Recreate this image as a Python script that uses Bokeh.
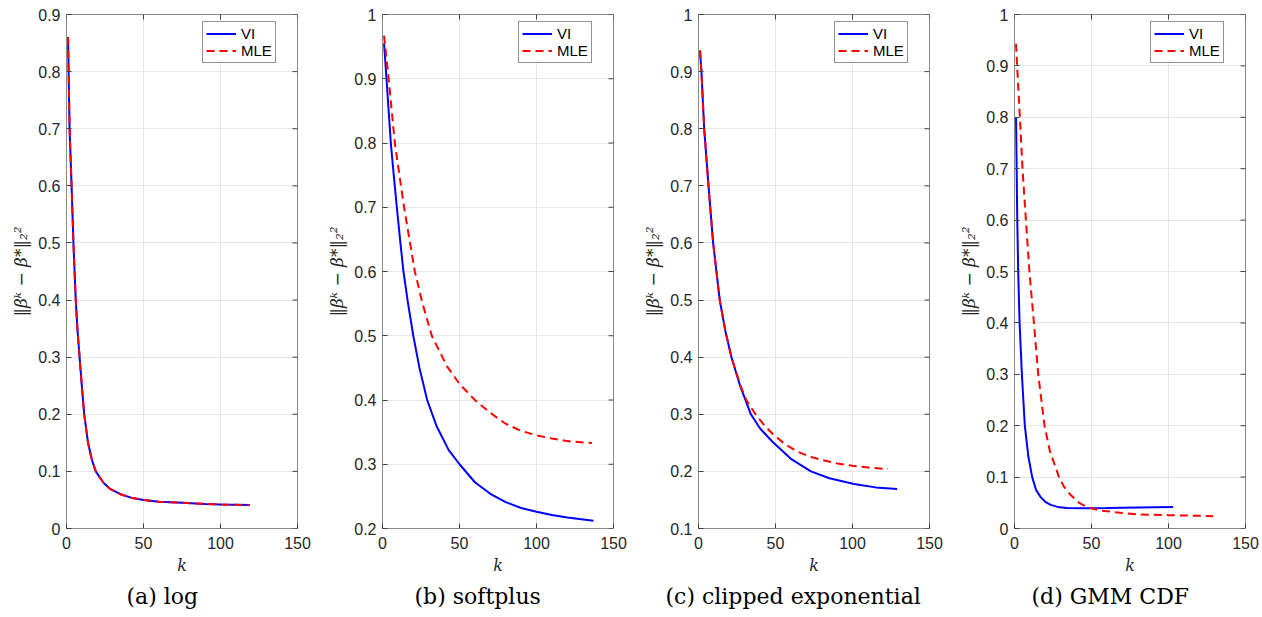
import math
from bokeh.plotting import figure
from bokeh.layouts import row
from bokeh.models import (Legend, LegendItem, Title, Range1d,
                          FixedTicker, NumeralTickFormatter)
from bokeh.embed import file_html
from bokeh.resources import INLINE

# ---------------- data ----------------
x_ticks = [0, 50, 100, 150]
y_ticks_a = [0, 0.1, 0.2, 0.3, 0.4, 0.5, 0.6, 0.7, 0.8, 0.9]
y_ticks_b = [0.2, 0.3, 0.4, 0.5, 0.6, 0.7, 0.8, 0.9, 1.0]
y_ticks_c = [0.1, 0.2, 0.3, 0.4, 0.5, 0.6, 0.7, 0.8, 0.9, 1.0]
y_ticks_d = [0, 0.1, 0.2, 0.3, 0.4, 0.5, 0.6, 0.7, 0.8, 0.9, 1.0]

captions = ["(a) log", "(b) softplus", "(c) clipped exponential", "(d) GMM CDF"]
series_names = ["VI", "MLE"]

# (a) log
a_vi_k = [1, 2, 3.3, 4.5, 6, 7.2, 8.5, 10, 11.5, 14, 16.5, 19, 24, 28, 35, 42, 50, 60, 75, 90, 100, 110, 119]
a_vi = [0.86, 0.70, 0.60, 0.50, 0.40, 0.345, 0.30, 0.248, 0.20, 0.15, 0.12, 0.10, 0.08, 0.07, 0.06, 0.054, 0.05, 0.047, 0.045, 0.043, 0.042, 0.0415, 0.041]
a_mle_k = [1, 2, 3.3, 4.5, 6, 7.2, 8.5, 10, 11.5, 14, 16.5, 19, 24, 28, 35, 42, 50, 60, 75, 90, 100, 110, 119]
a_mle = [0.86, 0.70, 0.60, 0.50, 0.40, 0.345, 0.30, 0.248, 0.20, 0.15, 0.12, 0.10, 0.08, 0.07, 0.06, 0.054, 0.05, 0.047, 0.045, 0.043, 0.042, 0.0415, 0.041]

# (b) softplus
b_vi_k = [1, 2.6, 4, 5.4, 7.3, 9.3, 11.4, 13.6, 16.6, 20, 24, 29, 35, 43, 50, 60, 70, 80, 90, 100, 110, 120, 137]
b_vi = [0.955, 0.90, 0.85, 0.80, 0.75, 0.70, 0.65, 0.60, 0.55, 0.50, 0.45, 0.40, 0.36, 0.322, 0.30, 0.272, 0.254, 0.241, 0.232, 0.226, 0.221, 0.217, 0.212]
b_mle_k = [1, 4, 8, 14, 21, 26, 32, 42, 50, 60, 70, 80, 90, 100, 110, 120, 136]
b_mle = [0.967, 0.90, 0.80, 0.70, 0.60, 0.55, 0.50, 0.452, 0.425, 0.40, 0.38, 0.363, 0.352, 0.345, 0.34, 0.336, 0.333]

# (c) clipped exponential
c_vi_k = [1, 1.9, 3.7, 6.5, 9.5, 13.8, 17.5, 21.4, 27, 34, 40, 48, 60, 73, 85, 101, 115, 129]
c_vi = [0.937, 0.90, 0.80, 0.70, 0.60, 0.50, 0.445, 0.40, 0.35, 0.30, 0.275, 0.252, 0.222, 0.20, 0.188, 0.178, 0.172, 0.169]
c_mle_k = [1, 1.9, 3.7, 6.5, 9.5, 13.8, 17.5, 21.4, 27, 31, 37, 42, 48, 56, 64, 72, 80, 90, 100, 110, 123]
c_mle = [0.937, 0.90, 0.80, 0.70, 0.60, 0.50, 0.445, 0.40, 0.352, 0.325, 0.30, 0.283, 0.266, 0.248, 0.235, 0.226, 0.22, 0.214, 0.21, 0.207, 0.204]

# (d) GMM CDF
d_vi_k = [1, 1.8, 2.4, 3.3, 4.8, 6.7, 9, 11.5, 14, 17, 20, 23.5, 28, 34, 45, 60, 80, 103]
d_vi = [0.80, 0.60, 0.50, 0.40, 0.30, 0.20, 0.14, 0.10, 0.075, 0.061, 0.052, 0.046, 0.042, 0.040, 0.0395, 0.040, 0.041, 0.042]
d_mle_k = [1, 1.7, 3.5, 5.2, 7.4, 9.7, 12.6, 15.4, 19.5, 23, 28.9, 32, 36.5, 42, 47.4, 56, 70, 82, 100, 115, 129]
d_mle = [0.943, 0.90, 0.80, 0.70, 0.60, 0.50, 0.40, 0.30, 0.20, 0.15, 0.10, 0.082, 0.065, 0.05, 0.041, 0.035, 0.03, 0.027, 0.026, 0.025, 0.024]

x_range_limits = (0, 150)
y_ranges = [(0, 0.9), (0.2, 1.0), (0.1, 1.0), (0, 1.0)]
y_tick_sets = [y_ticks_a, y_ticks_b, y_ticks_c, y_ticks_d]
vi_data = [(a_vi_k, a_vi), (b_vi_k, b_vi), (c_vi_k, c_vi), (d_vi_k, d_vi)]
mle_data = [(a_mle_k, a_mle), (b_mle_k, b_mle), (c_mle_k, c_mle), (d_mle_k, d_mle)]

# ---------------- styling / layout ----------------
Y_LABEL = "\u2016\u03b2\u1d4f \u2212 \u03b2*\u2016\u2082\u00b2"
TICK_FONT = "Liberation Sans"
TEXT_COLOR = "#262626"
TICK_COLOR = "#404040"

FRAME_W, FRAME_H = 231, 514
LEFT, TOP = 66, 14
FIG_H = 616
PANEL_W = [316, 316, 316, 312]
CAPTION_SHIFT = [60, 32, -33, 17]   # caption left edge relative to frame left (px)


def style_axis(ax, ticks):
    ax.ticker = FixedTicker(ticks=ticks)
    ax.major_tick_in = 5
    ax.major_tick_out = 0
    ax.minor_tick_in = 0
    ax.minor_tick_out = 0
    ax.axis_line_color = None
    ax.major_tick_line_color = TICK_COLOR
    ax.major_label_text_font = TICK_FONT
    ax.major_label_text_font_size = "16px"
    ax.major_label_text_color = TEXT_COLOR


def make_panel(i):
    w = PANEL_W[i]
    ymin, ymax = y_ranges[i]
    xmin, xmax = x_range_limits
    p = figure(width=w, height=FIG_H,
               x_range=Range1d(xmin, xmax), y_range=Range1d(ymin, ymax),
               output_backend="svg", toolbar_location=None,
               min_border_left=LEFT, min_border_right=w - LEFT - FRAME_W,
               min_border_top=TOP, min_border_bottom=FIG_H - TOP - FRAME_H)
    p.background_fill_color = "white"
    p.border_fill_color = "white"
    p.outline_line_color = "#8a8a8a"
    p.outline_line_width = 1

    style_axis(p.xaxis[0], x_ticks)
    style_axis(p.yaxis[0], y_tick_sets[i])
    p.xaxis.formatter = NumeralTickFormatter(format="0")
    p.yaxis.formatter = NumeralTickFormatter(format="0.[0]")
    p.xaxis.major_label_standoff = 8
    p.yaxis.major_label_standoff = 6

    p.xaxis.axis_label = "k"
    p.xaxis.axis_label_text_font = "DejaVu Serif"
    p.xaxis.axis_label_text_font_style = "italic"
    p.xaxis.axis_label_text_font_size = "16px"
    p.xaxis.axis_label_text_color = TEXT_COLOR
    p.xaxis.axis_label_standoff = 4

    p.yaxis.axis_label = Y_LABEL
    p.yaxis.axis_label_text_font = "DejaVu Serif"
    p.yaxis.axis_label_text_font_style = "italic"
    p.yaxis.axis_label_text_font_size = "17px"
    p.yaxis.axis_label_text_color = TEXT_COLOR
    p.yaxis.axis_label_standoff = 4

    p.xgrid.ticker = FixedTicker(ticks=x_ticks)
    p.ygrid.ticker = FixedTicker(ticks=y_tick_sets[i])
    p.xgrid.grid_line_color = "#e6e6e6"
    p.ygrid.grid_line_color = "#e6e6e6"

    # inward tick marks on the right and top edges of the box (half of each
    # dash marker is clipped by the frame)
    yt = y_tick_sets[i]
    p.scatter([xmax] * len(yt), yt, marker="dash", size=10, angle=0,
              line_color=TICK_COLOR, line_width=1)
    p.scatter(x_ticks, [ymax] * len(x_ticks), marker="dash", size=10,
              angle=math.pi / 2, line_color=TICK_COLOR, line_width=1)

    vk, vv = vi_data[i]
    mk, mv = mle_data[i]
    r_vi = p.line(vk, vv, line_color="#0000ff", line_width=2)
    r_mle = p.line(mk, mv, line_color="#ff0000", line_width=2, line_dash="8 5")

    legend = Legend(items=[LegendItem(label=series_names[0], renderers=[r_vi]),
                           LegendItem(label=series_names[1], renderers=[r_mle])],
                    location=(FRAME_W - 22 - 73, FRAME_H - 9 - 40))
    legend.label_text_font = TICK_FONT
    legend.label_text_font_size = "15px"
    legend.label_text_color = "black"
    legend.border_line_color = "#262626"
    legend.border_line_width = 1
    legend.padding = 3
    legend.spacing = 0
    legend.margin = 0
    legend.glyph_width = 30
    legend.glyph_height = 17
    legend.label_height = 17
    legend.label_standoff = 5
    legend.background_fill_alpha = 1
    p.add_layout(legend)

    cap = Title(text=captions[i], align="left", text_font="DejaVu Serif",
                text_font_size="22px", text_font_style="normal",
                text_color="black", standoff=9, offset=CAPTION_SHIFT[i])
    p.add_layout(cap, "below")
    return p


layout = row(*[make_panel(i) for i in range(4)], spacing=0)
open("out.html", "w").write(file_html(layout, INLINE))
